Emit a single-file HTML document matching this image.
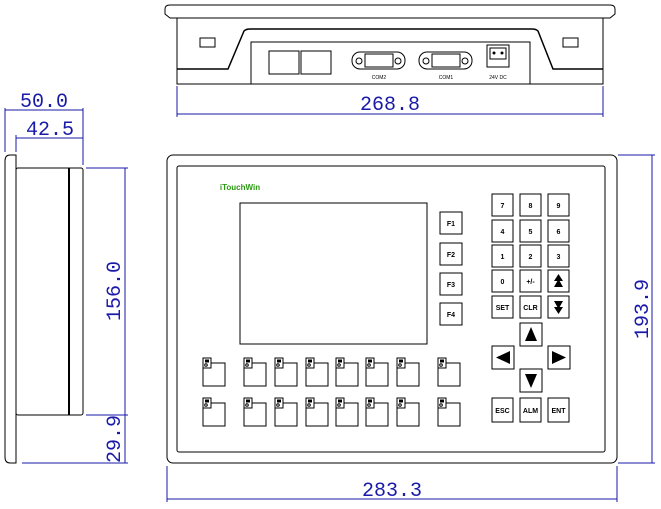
<!DOCTYPE html>
<html><head><style>
html,body{margin:0;padding:0;background:#fff;}
svg{display:block;}
.k{fill:#fff;stroke:#000;stroke-width:1;}
.t{font-family:"Liberation Sans",sans-serif;font-size:7px;font-weight:bold;fill:#000;text-anchor:middle;}
.d{font-family:"Liberation Mono",monospace;font-size:20px;fill:#1a1aa8;text-anchor:middle;}
.b{stroke:#1a1aa8;stroke-width:1;fill:none;}
</style></head><body>
<svg width="661" height="509" viewBox="0 0 661 509" xmlns="http://www.w3.org/2000/svg">
<!-- TOP VIEW -->
<path d="M170,18 L165,14 L165,9 Q165,5 170,5 L610,5 Q615,5 615,9 L615,14 L610,18 Z" class="k"/>
<rect x="177" y="18" width="426" height="66" class="k"/>
<path d="M177,69 L228,69 L244,31 Q246,29 250,29 L532,29 Q536,29 538,31 L553,69 L603,69" fill="none" stroke="#000" stroke-width="1.5"/>
<rect x="200" y="38" width="15" height="9" class="k"/>
<rect x="563" y="38" width="15" height="9" class="k"/>
<rect x="251" y="42" width="279" height="42" class="k"/>
<rect x="269" y="51" width="30" height="23" class="k"/>
<rect x="301" y="51" width="30" height="23" class="k"/>
<g>
<rect x="352" y="52" width="53" height="17" rx="8" class="k"/>
<rect x="365" y="54" width="28" height="13" class="k"/>
<circle cx="359" cy="61" r="3" class="k"/><circle cx="398" cy="61" r="3" class="k"/>
<text x="379" y="79" class="t" style="font-size:5px;font-weight:normal">COM2</text>
<rect x="419" y="52" width="53" height="17" rx="8" class="k"/>
<rect x="432" y="54" width="28" height="13" class="k"/>
<circle cx="426" cy="61" r="3" class="k"/><circle cx="465" cy="61" r="3" class="k"/>
<text x="446" y="79" class="t" style="font-size:5px;font-weight:normal">COM1</text>
<rect x="487" y="45" width="22" height="22" class="k"/>
<rect x="490" y="48" width="16" height="11" class="k"/>
<circle cx="494" cy="53" r="1.5"/><circle cx="502" cy="53" r="1.5"/>
<text x="498" y="79" class="t" style="font-size:5px;font-weight:normal">24V DC</text>
</g>
<line x1="177" y1="86" x2="177" y2="117" class="b"/>
<line x1="603" y1="86" x2="603" y2="117" class="b"/>
<line x1="177" y1="114" x2="603" y2="114" class="b"/>
<text x="390" y="110" class="d">268.8</text>

<!-- SIDE VIEW -->
<path d="M16,155 L10,155 Q5,155 5,161 L5,457 Q5,463 10,463 L16,463 Z" class="k"/>
<rect x="16" y="168" width="67" height="247" rx="2" class="k"/>
<line x1="69" y1="168" x2="69" y2="415" stroke="#000" stroke-width="2"/>
<line x1="5" y1="108" x2="5" y2="152" class="b"/>
<line x1="83" y1="108" x2="83" y2="165" class="b"/>
<line x1="16" y1="135" x2="16" y2="152" class="b"/>
<line x1="5" y1="110" x2="83" y2="110" class="b"/>
<line x1="16" y1="138" x2="83" y2="138" class="b"/>
<text x="44" y="107" class="d">50.0</text>
<text x="50" y="135" class="d">42.5</text>
<line x1="86" y1="168" x2="128" y2="168" class="b"/>
<line x1="86" y1="415" x2="128" y2="415" class="b"/>
<line x1="22" y1="463" x2="128" y2="463" class="b"/>
<line x1="125" y1="168" x2="125" y2="463" class="b"/>
<text transform="translate(120,291) rotate(-90)" class="d">156.0</text>
<text transform="translate(120,439) rotate(-90)" class="d">29.9</text>

<!-- FRONT VIEW -->
<rect x="167" y="155" width="450" height="308" rx="6" class="k"/>
<rect x="177" y="166" width="428" height="286" rx="2" class="k"/>
<text x="240" y="190" style="font-family:'Liberation Sans',sans-serif;font-size:8px;font-weight:bold;fill:#2a9a10" text-anchor="middle">iTouchWin</text>
<rect x="240" y="203" width="187" height="141" class="k"/>
<g>
<rect x="440" y="212" width="22" height="22" class="k"/><text x="451" y="226" class="t">F1</text>
<rect x="440" y="243" width="22" height="22" class="k"/><text x="451" y="257" class="t">F2</text>
<rect x="440" y="273" width="22" height="22" class="k"/><text x="451" y="287" class="t">F3</text>
<rect x="440" y="303" width="22" height="22" class="k"/><text x="451" y="317" class="t">F4</text>
</g>
<g>
<rect x="492" y="194" width="21" height="22" class="k"/><text x="502.5" y="208" class="t">7</text>
<rect x="520" y="194" width="21" height="22" class="k"/><text x="530.5" y="208" class="t">8</text>
<rect x="548" y="194" width="21" height="22" class="k"/><text x="558.5" y="208" class="t">9</text>
<rect x="492" y="220" width="21" height="22" class="k"/><text x="502.5" y="234" class="t">4</text>
<rect x="520" y="220" width="21" height="22" class="k"/><text x="530.5" y="234" class="t">5</text>
<rect x="548" y="220" width="21" height="22" class="k"/><text x="558.5" y="234" class="t">6</text>
<rect x="492" y="245" width="21" height="22" class="k"/><text x="502.5" y="259" class="t">1</text>
<rect x="520" y="245" width="21" height="22" class="k"/><text x="530.5" y="259" class="t">2</text>
<rect x="548" y="245" width="21" height="22" class="k"/><text x="558.5" y="259" class="t">3</text>
<rect x="492" y="270" width="21" height="22" class="k"/><text x="502.5" y="284" class="t">0</text>
<rect x="520" y="270" width="21" height="22" class="k"/><text x="530.5" y="284" class="t">+/-</text>
<rect x="548" y="270" width="21" height="22" class="k"/><path d="M558.5,274 L563,281 L554,281 Z M558.5,279 L563,287 L554,287 Z"/>
<rect x="492" y="296" width="21" height="22" class="k"/><text x="502.5" y="310" class="t">SET</text>
<rect x="520" y="296" width="21" height="22" class="k"/><text x="530.5" y="310" class="t">CLR</text>
<rect x="548" y="296" width="21" height="22" class="k"/><path d="M558.5,314 L563,307 L554,307 Z M558.5,309 L563,301 L554,301 Z"/>
<rect x="520" y="323" width="22" height="23" class="k"/><path d="M531,327 L537,341 L525,341 Z"/>
<rect x="492" y="346" width="22" height="23" class="k"/><path d="M496,357.5 L510,351 L510,364 Z"/>
<rect x="548" y="346" width="22" height="23" class="k"/><path d="M566,357.5 L552,351 L552,364 Z"/>
<rect x="520" y="369" width="22" height="23" class="k"/><path d="M531,388 L537,374 L525,374 Z"/>
<rect x="492" y="398" width="21" height="24" class="k"/><text x="502.5" y="413" class="t">ESC</text>
<rect x="520" y="398" width="21" height="24" class="k"/><text x="530.5" y="413" class="t">ALM</text>
<rect x="548" y="398" width="21" height="24" class="k"/><text x="558.5" y="413" class="t">ENT</text>
</g>
<g id="bk">
<g transform="translate(203,358)"><rect x="0" y="5" width="22" height="23" class="k"/><rect x="0" y="0" width="8" height="10" class="k"/><circle cx="3" cy="7" r="1.3" class="k"/><rect x="2" y="1.5" width="4" height="3"/></g>
</g>
<use href="#bk" x="41"/><use href="#bk" x="72"/><use href="#bk" x="103"/><use href="#bk" x="133"/><use href="#bk" x="163"/><use href="#bk" x="194"/><use href="#bk" x="235"/>
<use href="#bk" y="40"/><use href="#bk" x="41" y="40"/><use href="#bk" x="72" y="40"/><use href="#bk" x="103" y="40"/><use href="#bk" x="133" y="40"/><use href="#bk" x="163" y="40"/><use href="#bk" x="194" y="40"/><use href="#bk" x="235" y="40"/>
<!-- front dims -->
<line x1="618" y1="155" x2="655" y2="155" class="b"/>
<line x1="618" y1="463" x2="655" y2="463" class="b"/>
<line x1="652" y1="155" x2="652" y2="463" class="b"/>
<text transform="translate(648,309) rotate(-90)" class="d">193.9</text>
<line x1="167" y1="466" x2="167" y2="502" class="b"/>
<line x1="617" y1="466" x2="617" y2="502" class="b"/>
<line x1="167" y1="499" x2="617" y2="499" class="b"/>
<text x="392" y="496" class="d">283.3</text>
</svg>
</body></html>
